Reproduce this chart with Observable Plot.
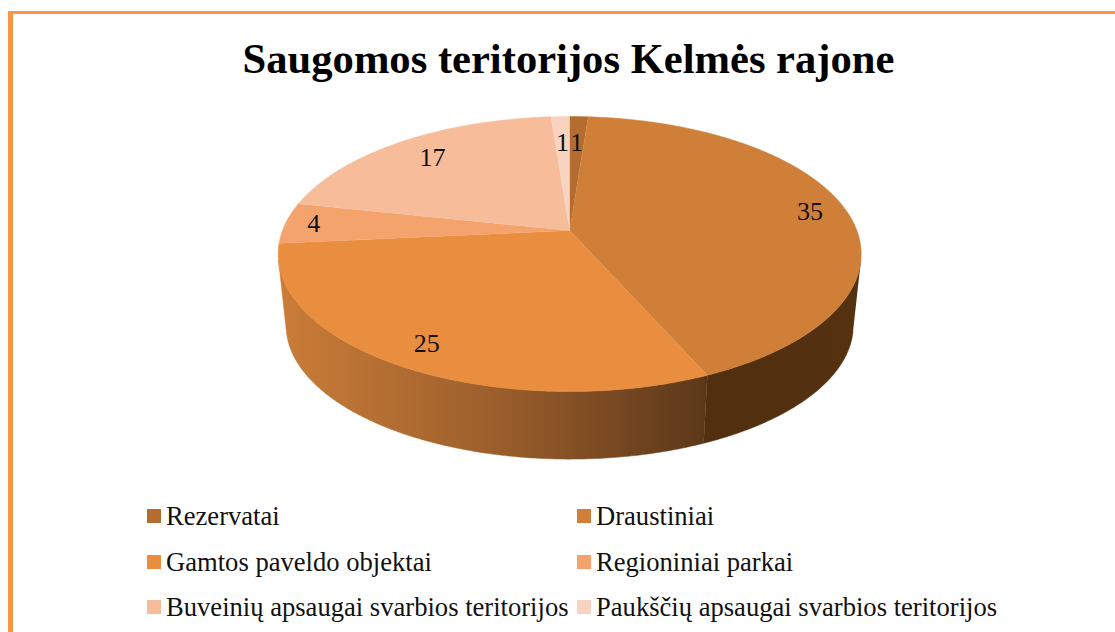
<!DOCTYPE html>
<html lang="lt">
<head>
<meta charset="utf-8">
<script src="https://cdn.jsdelivr.net/npm/d3@7"></script>
<script src="https://cdn.jsdelivr.net/npm/@observablehq/plot@0.6"></script>
<style>
  html, body { margin: 0; padding: 0; background: #fff; }
  #page { position: relative; width: 1115px; height: 632px; overflow: hidden; font-family: "Liberation Serif", serif; color: #111; }
  #borderTop { position: absolute; left: 8px; right: 0; top: 11px; height: 3px; background: #F79646; }
  #borderLeft { position: absolute; left: 8px; top: 11px; bottom: 0; width: 5px; background: #F79646; }
  #title { position: absolute; left: 0; width: 1137px; top: 35px; text-align: center; font-weight: bold; font-size: 42.6px; line-height: 48px; color: #000; white-space: nowrap; }
  #chart { position: absolute; left: 0; top: 100px; }
  .item { position: absolute; font-size: 26.6px; line-height: 30px; white-space: nowrap; display: flex; align-items: center; }
  .item i { display: block; width: 14px; height: 14px; margin-right: 5px; }
</style>
</head>
<body>
<div id="page">
  <div id="borderTop"></div>
  <div id="borderLeft"></div>
  <div id="title">Saugomos teritorijos Kelmės rajone</div>
  <div id="chart"></div>
</div>
<script>
const categories = ["Rezervatai", "Draustiniai", "Gamtos paveldo objektai", "Regioniniai parkai", "Buveinių apsaugai svarbios teritorijos", "Paukščių apsaugai svarbios teritorijos"];
const values = [1, 35, 25, 4, 17, 1];
const colors = ["#B46C31", "#CF7F38", "#E98D3F", "#F4A36C", "#F7BC9A", "#F8D3BF"];
const wallFills = ["#53300F", "url(#wallRight)", "url(#wallFront)", "#C77B38", "#C77B38", "#53300F"];

// Layout of the tilted disc (style, not data)
const tilt = 0.1709;          // perspective strength
const depthScale = 0.973;     // lower rim shrinks slightly
const depthDrop = 0.539;      // drop of the lower rim, in y units
const frontStart = (102.5 / 180) * Math.PI;  // wall is visible between these two rim angles
const frontEnd = (257.5 / 180) * Math.PI;
const labelRadius = [0.74, 0.87, 0.86, 0.9, 0.8, 0.74];

const total = d3.sum(values);
const cumulative = d3.cumsum(values);
const toAngle = (v) => (v / total) * 2 * Math.PI;
function project(theta, r = 1) {
  const u = r * Math.sin(theta), v = r * Math.cos(theta);
  const k = 1 + tilt * v;
  return {x: u / k, y: v / k};
}
function arc(a0, a1) {
  const n = Math.max(2, Math.ceil((a1 - a0) / 0.01));
  return d3.range(n + 1).map((i) => a0 + ((a1 - a0) * i) / n);
}

const slices = values.map((v, i) => ({
  a0: toAngle(cumulative[i] - v),
  a1: toAngle(cumulative[i]),
  value: v,
  color: colors[i],
  wall: wallFills[i],
  labelR: labelRadius[i]
}));

const topPolygon = (s) => [{x: 0, y: 0}, ...arc(s.a0, s.a1).map((a) => project(a))];
const wallPolygon = (s) => {
  const angles = arc(Math.max(s.a0, frontStart), Math.min(s.a1, frontEnd));
  const lower = (a) => { const p = project(a); return {x: p.x * depthScale, y: p.y * depthScale - depthDrop}; };
  return [...angles.map((a) => project(a)), ...angles.slice().reverse().map(lower)];
};
const frontSlices = slices.filter((s) => s.a1 > frontStart && s.a0 < frontEnd);

const gradients = () => {
  const defs = d3.create("svg:defs");
  const grad = (id, stops) => {
    const g = defs.append("linearGradient").attr("id", id).attr("x1", 0).attr("x2", 1).attr("y1", 0).attr("y2", 0);
    stops.forEach(([o, c]) => g.append("stop").attr("offset", o).attr("stop-color", c));
  };
  grad("wallFront", [[0, "#CB7D38"], [0.5, "#9C5F2C"], [1, "#5B3719"]]);
  grad("wallRight", [[0, "#50300F"], [1, "#55310F"]]);
  return defs.node();
};

const labels = slices.map((s) => {
  const p = project((s.a0 + s.a1) / 2, s.labelR);
  return {...p, text: String(s.value)};
});

const centerX = 569.2;
const svg = Plot.plot({
  width: 1115,
  height: 400,
  margin: 0,
  style: {background: "transparent", overflow: "visible"},
  x: {axis: null, domain: [-1, 1], range: [centerX - 287.2, centerX + 287.2]},
  y: {axis: null, domain: [1, -1], range: [130 - 133.5, 130 + 133.5]},
  marks: [
    gradients,
    ...frontSlices.map((s) => Plot.line(wallPolygon(s), {x: "x", y: "y", fill: s.wall, stroke: s.wall, strokeWidth: 0.5})),
    ...slices.map((s) => Plot.line(topPolygon(s), {x: "x", y: "y", fill: s.color, stroke: s.color, strokeWidth: 0.5})),
    Plot.text(labels, {x: "x", y: "y", text: "text", fontFamily: "Liberation Serif", fontSize: 26, fill: "#111"})
  ]
});
document.getElementById("chart").appendChild(svg);

const page = document.getElementById("page");
const legendColumns = [147, 577];
const legendRows = [516, 561.5, 607];
categories.forEach((c, i) => {
  const el = document.createElement("div");
  el.className = "item";
  el.style.left = legendColumns[i % 2] + "px";
  el.style.top = legendRows[Math.floor(i / 2)] - 15 + "px";
  const sw = document.createElement("i");
  sw.style.background = colors[i];
  el.appendChild(sw);
  el.appendChild(document.createTextNode(c));
  page.appendChild(el);
});
</script>
</body>
</html>
